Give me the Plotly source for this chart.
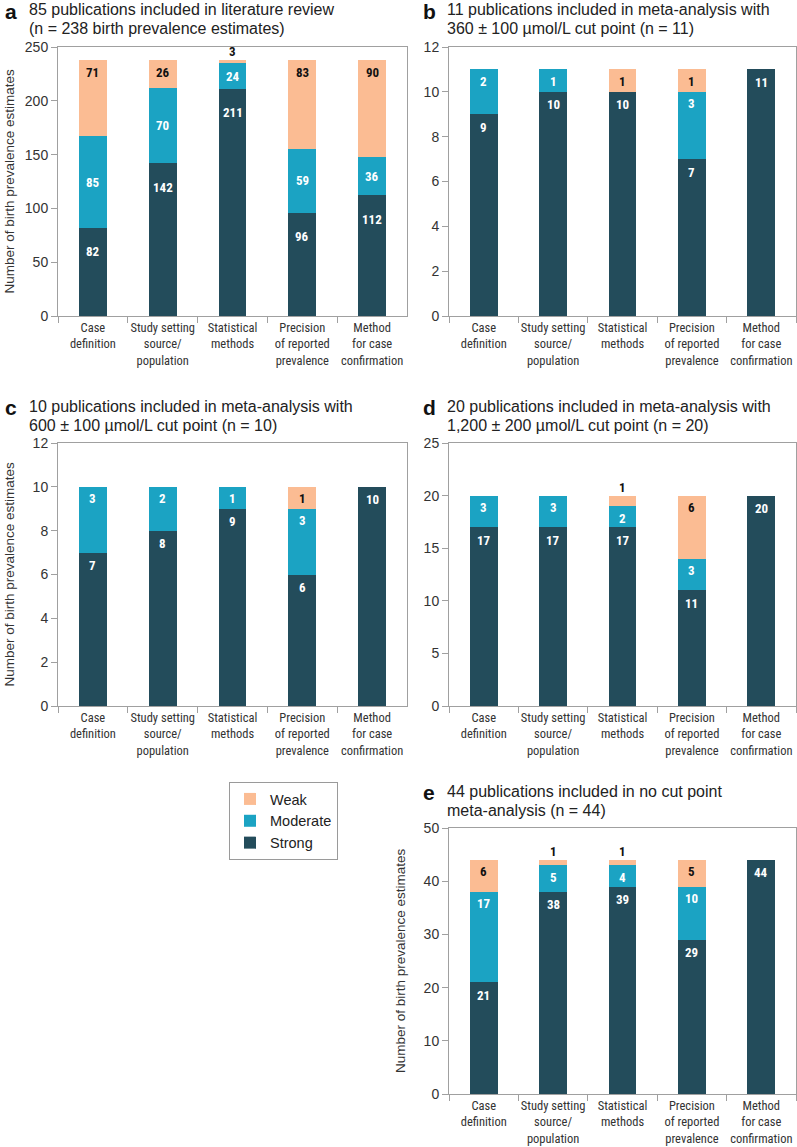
import plotly.graph_objects as go

# ---------------- data ----------------
categories = [
    "Case<br>definition",
    "Study setting<br>source/<br>population",
    "Statistical<br>methods",
    "Precision<br>of reported<br>prevalence",
    "Method<br>for case<br>confirmation",
]
series_names = ["Strong", "Moderate", "Weak"]

a_strong = [82, 142, 211, 96, 112]
a_moderate = [85, 70, 24, 59, 36]
a_weak = [71, 26, 3, 83, 90]

b_strong = [9, 10, 10, 7, 11]
b_moderate = [2, 1, 0, 3, 0]
b_weak = [0, 0, 1, 1, 0]

c_strong = [7, 8, 9, 6, 10]
c_moderate = [3, 2, 1, 3, 0]
c_weak = [0, 0, 0, 1, 0]

d_strong = [17, 17, 17, 11, 20]
d_moderate = [3, 3, 2, 3, 0]
d_weak = [0, 0, 1, 6, 0]

e_strong = [21, 38, 39, 29, 44]
e_moderate = [17, 5, 4, 10, 0]
e_weak = [6, 1, 1, 5, 0]

titles = {
    "a": ["85 publications included in literature review",
          "(n = 238 birth prevalence estimates)"],
    "b": ["11 publications included in meta-analysis with",
          "360 ± 100 µmol/L cut point (n = 11)"],
    "c": ["10 publications included in meta-analysis with",
          "600 ± 100 µmol/L cut point (n = 10)"],
    "d": ["20 publications included in meta-analysis with",
          "1,200 ± 200 µmol/L cut point (n = 20)"],
    "e": ["44 publications included in no cut point",
          "meta-analysis (n = 44)"],
}
y_ranges = {"a": (250, 50), "b": (12, 2), "c": (12, 2), "d": (25, 5), "e": (50, 10)}
y_title = "Number of birth prevalence estimates"

# ---------------- style / layout ----------------
W, H = 797, 1147
COLORS = {"Strong": "#234C5B", "Moderate": "#1BA3C3", "Weak": "#FBBC93"}
TXT_COL = {"Strong": "white", "Moderate": "white", "Weak": "#111111"}
AX_COL = "#A0A0A0"
FONT = "Liberation Sans, Arial, sans-serif"
NARROW = "Liberation Sans Narrow, Arial Narrow, Roboto Condensed, Liberation Sans, sans-serif"

# pixel boxes: left, right, top, bottom
boxes = {
    "a": (58, 407, 47, 316),
    "b": (449, 796, 47, 316),
    "c": (58, 407, 443, 706),
    "d": (449, 796, 443, 706),
    "e": (449, 796, 828, 1094),
}
show_ytitle = {"a": True, "b": False, "c": True, "d": False, "e": True}
# label anchoring per panel/series: ("top", px shift) or ("mid", 0)
anchor = {
    "a": {"Strong": ("top", -24), "Moderate": ("mid", 0), "Weak": ("top", -13)},
}
default_anchor = {"Strong": ("top", -13), "Moderate": ("top", -12), "Weak": ("top", -12)}

data = {
    "a": (a_strong, a_moderate, a_weak),
    "b": (b_strong, b_moderate, b_weak),
    "c": (c_strong, c_moderate, c_weak),
    "d": (d_strong, d_moderate, d_weak),
    "e": (e_strong, e_moderate, e_weak),
}

fig = go.Figure()
annotations = []
layout = {}

def px_x(p):
    return p / W

def px_y(p):
    return 1 - p / H

for i, key in enumerate(["a", "b", "c", "d", "e"]):
    n = i + 1
    xa = "x" if n == 1 else f"x{n}"
    ya = "y" if n == 1 else f"y{n}"
    L, R, T, B = boxes[key]
    ymax, dtick = y_ranges[key]
    vals = data[key]
    base = [0] * len(categories)
    for sname, v in zip(series_names, vals):
        fig.add_trace(go.Bar(
            x=categories, y=v, name=sname, xaxis=xa, yaxis=ya,
            marker=dict(color=COLORS[sname], line=dict(width=0)),
            width=0.4, showlegend=(key == "a"), legendgroup=sname,
            hoverinfo="skip",
        ))
        mode, shift = anchor.get(key, default_anchor).get(sname, default_anchor[sname])
        for j, (c, val) in enumerate(zip(categories, v)):
            if val == 0:
                base[j] += val
                continue
            seg_px = val / ymax * (B - T)
            top = base[j] + val
            if seg_px < 15:
                annotations.append(dict(
                    x=c, y=top, xref=xa, yref=ya, text=f"<b>{val}</b>",
                    showarrow=False, yanchor="bottom", yshift=-1,
                    font=dict(family=NARROW, size=13, color="#111111")))
            elif mode == "mid":
                annotations.append(dict(
                    x=c, y=base[j] + val / 2, xref=xa, yref=ya, text=f"<b>{val}</b>",
                    showarrow=False, yanchor="middle",
                    font=dict(family=NARROW, size=13, color=TXT_COL[sname])))
            else:
                annotations.append(dict(
                    x=c, y=top, xref=xa, yref=ya, text=f"<b>{val}</b>",
                    showarrow=False, yanchor="middle", yshift=shift,
                    font=dict(family=NARROW, size=13, color=TXT_COL[sname])))
            base[j] += val

    xkey = "xaxis" if n == 1 else f"xaxis{n}"
    ykey = "yaxis" if n == 1 else f"yaxis{n}"
    layout[xkey] = dict(
        domain=[px_x(L), px_x(R)], anchor=ya, type="category",
        showline=True, linecolor=AX_COL, linewidth=1, mirror=True,
        ticks="outside", tickson="boundaries", ticklen=6, tickcolor=AX_COL,
        tickangle=0, automargin=False,
        tickfont=dict(family=NARROW, size=12.5, color="#333333"),
        showgrid=False, zeroline=False, fixedrange=True,
    )
    layout[ykey] = dict(
        domain=[px_y(B), px_y(T)], anchor=xa, range=[0, ymax],
        tick0=0, dtick=dtick, automargin=False,
        showline=True, linecolor=AX_COL, linewidth=1, mirror=True,
        ticks="outside", ticklen=6, tickcolor=AX_COL,
        tickfont=dict(family=FONT, size=14, color="#333333"),
        showgrid=False, zeroline=False, fixedrange=True,
    )

    # panel titles
    t1, t2 = titles[key]
    tx = 27 if L < 200 else 445
    lx = 3 if L < 200 else 421
    annotations.append(dict(x=px_x(lx), y=px_y(T - 36), xref="paper", yref="paper",
                            text=f"<b>{key}</b>", showarrow=False, xanchor="left",
                            yanchor="middle",
                            font=dict(family=FONT, size=21, color="#111111")))
    annotations.append(dict(x=px_x(tx), y=px_y(T - 37), xref="paper", yref="paper",
                            text=t1, showarrow=False, xanchor="left", yanchor="middle",
                            font=dict(family=FONT, size=16, color="#222222")))
    annotations.append(dict(x=px_x(tx), y=px_y(T - 18), xref="paper", yref="paper",
                            text=t2, showarrow=False, xanchor="left", yanchor="middle",
                            font=dict(family=FONT, size=16, color="#222222")))
    if show_ytitle[key]:
        annotations.append(dict(x=px_x(L - 49), y=px_y((T + B) / 2), xref="paper",
                                yref="paper", text=y_title, textangle=-90,
                                showarrow=False, xanchor="center", yanchor="middle",
                                font=dict(family=FONT, size=13.5, color="#333333")))

fig.update_layout(
    width=W, height=H, margin=dict(l=0, r=0, t=0, b=0, autoexpand=False),
    paper_bgcolor="white", plot_bgcolor="white",
    barmode="stack", annotations=annotations,
    legend=dict(x=px_x(229), y=px_y(782), xanchor="left", yanchor="top",
                traceorder="reversed", bordercolor="#9A9A9A", borderwidth=1,
                font=dict(family=FONT, size=14.5, color="#222222"),
                bgcolor="white", itemwidth=30),
    **layout,
)

fig.write_html(
    "out.html",
    config={"displayModeBar": False, "staticPlot": True},
    post_script="document.body.style.margin='0';document.body.style.overflow='hidden';",
)
